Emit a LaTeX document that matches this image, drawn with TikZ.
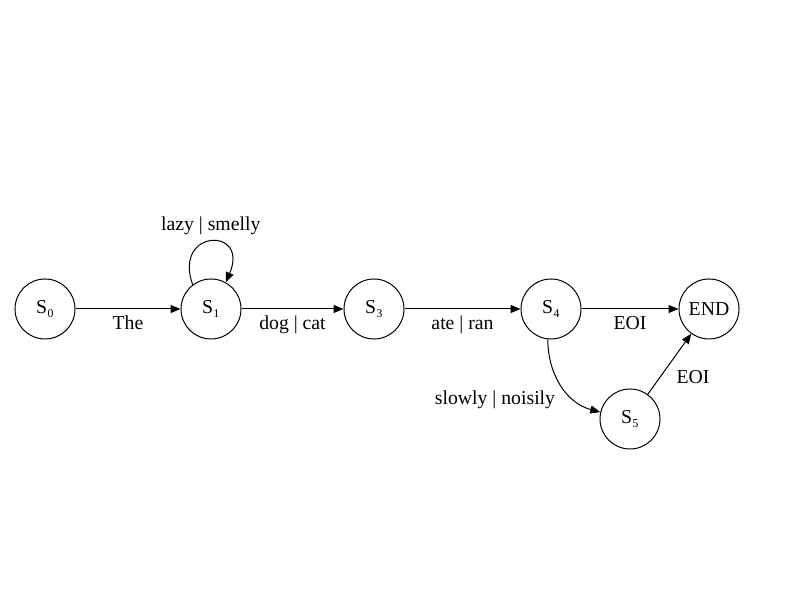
\documentclass[tikz,border=0pt]{standalone}
\usepackage{fontspec}
\setmainfont{Liberation Serif}
\usetikzlibrary{arrows.meta}
\begin{document}
\begin{tikzpicture}[x=0.75pt,y=0.75pt,
  every node/.style={font=\fontsize{14.8}{17}\selectfont},
  state/.style={circle,draw,line width=0.75pt,minimum size=45pt,inner sep=0pt},
  edge/.style={line width=0.75pt,-{Triangle[length=7.5pt,width=6pt]}},
  lbl/.style={inner sep=0pt,text height=1.45ex,text depth=0.3ex}]
\useasboundingbox (0,0) rectangle (800,600);
\node[state] (s0) at (45,291) {S₀};
\node[state] (s1) at (211,291) {S₁};
\node[state] (s3) at (374,291) {S₃};
\node[state] (s4) at (551,291) {S₄};
\node[state] (end) at (709,291) {END};
\node[state] (s5) at (630,181) {S₅};
\draw[edge] (s0) -- node[lbl,midway,yshift=-13pt] {The} (s1);
\draw[edge] (s1) -- node[lbl,midway,yshift=-13pt] {dog | cat} (s3);
\draw[edge] (s3) -- node[lbl,midway,yshift=-13pt] {ate | ran} (s4);
\draw[edge] (s4) -- node[lbl,midway,yshift=-13pt] {EOI} (end);
\draw[edge] (s1.127) .. controls +(-20,56) and +(24,56) .. node[lbl,pos=0.5,yshift=10.5pt] {lazy | smelly} (s1.61);
\draw[edge] (s4.-96) to[out=-90,in=165] (s5.167);
\node[lbl] (l45) at (495,199) {slowly | noisily};
\draw[edge] (s5) -- (end);
\node[lbl] (l5e) at (693,220) {EOI};
\end{tikzpicture}
\end{document}
